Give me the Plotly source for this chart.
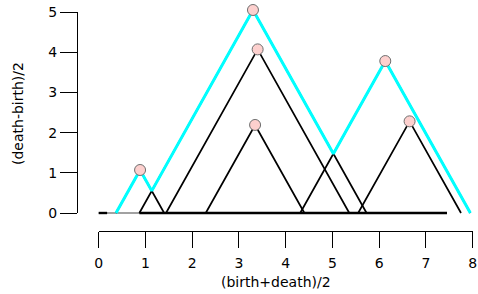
import numpy as np
import plotly.graph_objects as go

# ---- data ----
births  = [0.37, 0.87, 1.44, 2.29, 4.31, 5.55]
deaths  = [1.40, 5.73, 5.36, 4.40, 7.95, 7.75]
heights = [1.07, 5.05, 4.07, 2.19, 3.78, 2.28]

baseline_range = [0.0, 7.45]
baseline_thick_segments = [[0.0, 0.18], [0.87, 7.45]]

x_ticks = [0, 1, 2, 3, 4, 5, 6, 7, 8]
y_ticks = [0, 1, 2, 3, 4, 5]

# ---- geometry helpers ----
W, H = 478, 294
px0, pxu = 98.7, 46.75      # pixel of x=0, pixels per x unit
py0, pyu = 213.0, 40.2      # pixel of y=0, pixels per y unit

centers = [(b + d) / 2 for b, d in zip(births, deaths)]

def tent(x, b, d, h):
    m = (b + d) / 2
    if x <= b or x >= d:
        return 0.0
    if x <= m:
        return h * (x - b) / (m - b)
    return h * (d - x) / (d - m)

# exact breakpoints of the upper envelope
segs = []
for b, d, h, m in zip(births, deaths, heights, centers):
    segs.append(((b, 0.0), (m, h)))
    segs.append(((m, h), (d, 0.0)))
bx = set()
for (p, q) in segs:
    bx.add(p[0]); bx.add(q[0])
for i in range(len(segs)):
    for j in range(i + 1, len(segs)):
        (x1, y1), (x2, y2) = segs[i]
        (x3, y3), (x4, y4) = segs[j]
        s1 = (y2 - y1) / (x2 - x1); s2 = (y4 - y3) / (x4 - x3)
        if abs(s1 - s2) < 1e-12:
            continue
        xi = (y3 - y1 + s1 * x1 - s2 * x3) / (s1 - s2)
        if max(x1, x3) - 1e-9 <= xi <= min(x2, x4) + 1e-9:
            bx.add(xi)
bx = sorted(v for v in bx if min(births) <= v <= max(deaths))
lam1 = [max(tent(x, b, d, h) for b, d, h in zip(births, deaths, heights)) for x in bx]

fig = go.Figure()

# thin baseline
fig.add_trace(go.Scatter(x=baseline_range, y=[0, 0], mode="lines",
                         line=dict(color="#444444", width=1.1), hoverinfo="skip"))
# thick baseline pieces
for a, b in baseline_thick_segments:
    fig.add_trace(go.Scatter(x=[a, b], y=[0, 0], mode="lines",
                             line=dict(color="black", width=2.4), hoverinfo="skip"))
# all tents in black
for b, d, h, m in zip(births, deaths, heights, centers):
    fig.add_trace(go.Scatter(x=[b, m, d], y=[0, h, 0], mode="lines",
                             line=dict(color="black", width=1.7), hoverinfo="skip"))
# first landscape in cyan
fig.add_trace(go.Scatter(x=bx, y=lam1, mode="lines",
                         line=dict(color="#00FFFF", width=3), hoverinfo="skip"))
# diagram points
fig.add_trace(go.Scatter(x=centers, y=heights, mode="markers", cliponaxis=False,
                         marker=dict(size=11, color="#FDD0CE",
                                     line=dict(color="#6E6E6E", width=1)),
                         hoverinfo="skip"))

font = dict(family="DejaVu Sans", size=14, color="black")

fig.update_layout(
    width=W, height=H, autosize=False,
    margin=dict(l=0, r=0, t=0, b=0, pad=0, autoexpand=False),
    paper_bgcolor="white", plot_bgcolor="rgba(0,0,0,0)",
    showlegend=False,
    font=font,
    xaxis=dict(domain=[0, 1], range=[-px0 / pxu, (W - px0) / pxu],
               visible=False, fixedrange=True, automargin=False),
    yaxis=dict(domain=[0, 1], range=[-(H - py0) / pyu, py0 / pyu],
               visible=False, fixedrange=True, automargin=False),
    xaxis2=dict(domain=[px0 / W, (px0 + 8 * pxu) / W], range=[0, 8],
                anchor="free", position=1 - 231 / H, automargin=False,
                tickmode="array", tickvals=x_ticks, ticktext=[str(v) for v in x_ticks],
                ticks="outside", ticklen=16, tickwidth=1, tickcolor="black",
                ticklabelstandoff=3,
                showline=True, linecolor="black", linewidth=1,
                showgrid=False, zeroline=False, tickfont=font),
    yaxis2=dict(domain=[1 - py0 / H, 1 - (py0 - 5 * pyu) / H], range=[0, 5],
                anchor="free", position=77 / W, automargin=False,
                tickmode="array", tickvals=y_ticks, ticktext=[str(v) for v in y_ticks],
                ticks="outside", ticklen=17, tickwidth=1, tickcolor="black",
                showline=True, linecolor="black", linewidth=1,
                showgrid=False, zeroline=False, tickfont=font),
)

# invisible trace to activate the decorative axes
fig.add_trace(go.Scatter(x=[None], y=[None], xaxis="x2", yaxis="y2",
                         mode="markers", hoverinfo="skip"))

fig.add_annotation(text="(birth+death)/2", xref="paper", yref="paper",
                   x=276 / W, y=1 - 282 / H, showarrow=False, font=font,
                   xanchor="center", yanchor="middle")
fig.add_annotation(text="(death-birth)/2", xref="paper", yref="paper",
                   x=18 / W, y=1 - 114 / H, showarrow=False, font=font,
                   textangle=-90, xanchor="center", yanchor="middle")

fig.write_html("out.html", config={"displayModeBar": False},
               post_script="document.body.style.margin='0px';document.body.style.overflow='hidden';")
